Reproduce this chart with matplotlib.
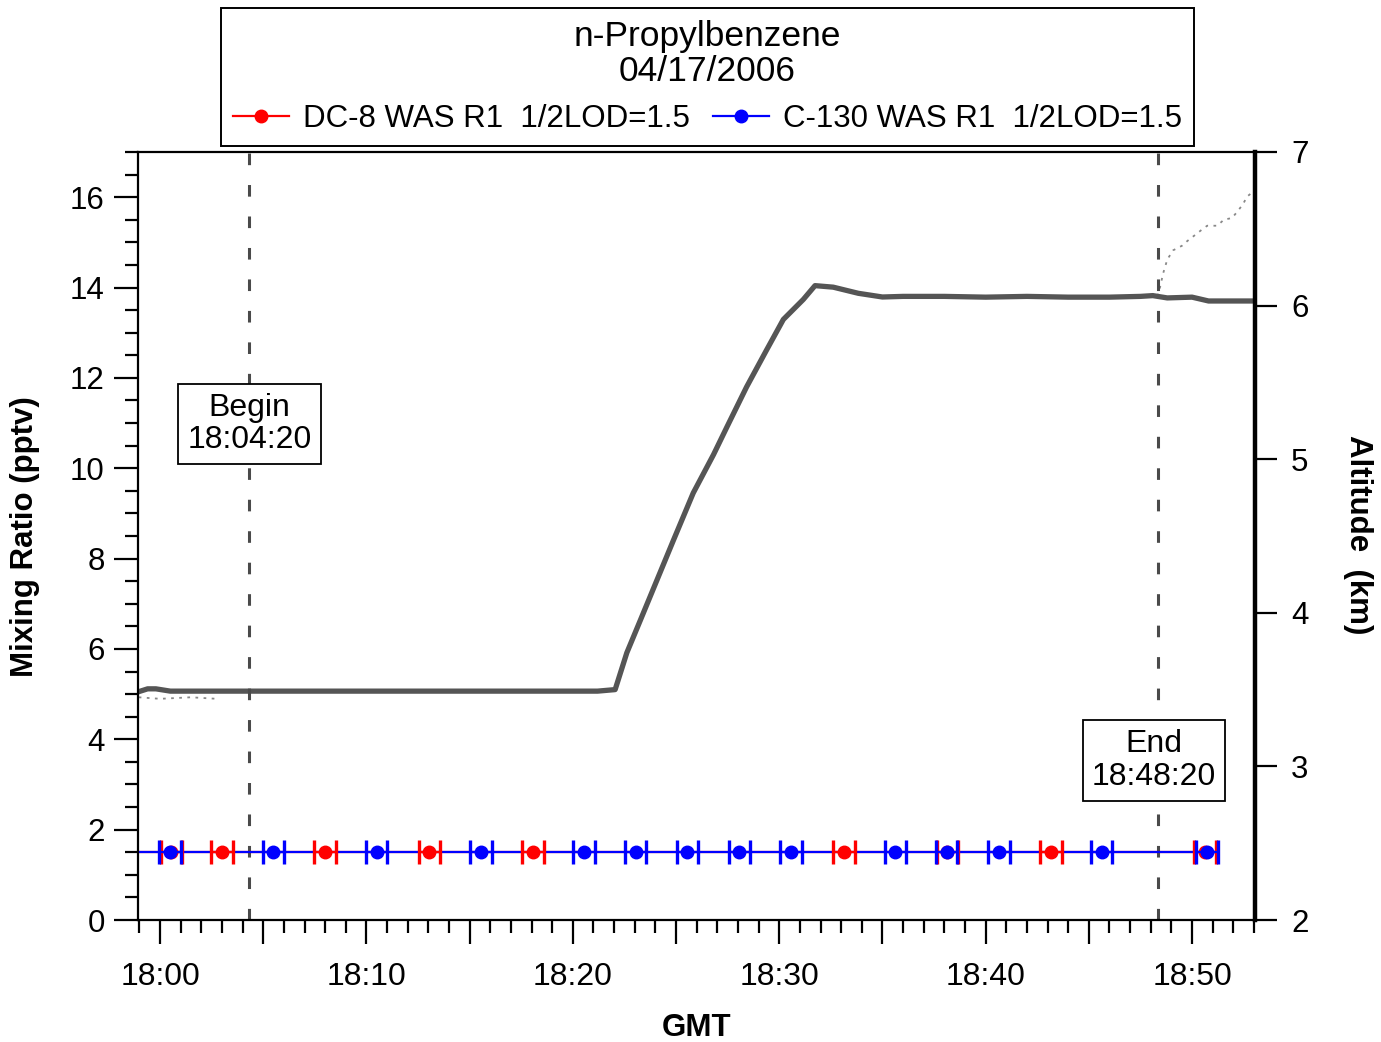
import matplotlib
matplotlib.use("Agg")
import numpy as np
import matplotlib.pyplot as plt
from matplotlib.lines import Line2D
from matplotlib.ticker import FixedLocator, MultipleLocator, FuncFormatter

plt.rcParams['font.family'] = ['Liberation Sans', 'DejaVu Sans']

# ---------------- data ----------------
species = "n-Propylbenzene"
flight_date = "04/17/2006"
dc8_label = "DC-8 WAS R1  1/2LOD=1.5"
c130_label = "C-130 WAS R1  1/2LOD=1.5"
begin_time = "18:04:20"
end_time = "18:48:20"
x_range = ["17:58:56", "18:53:03"]
mr_range = [0, 17]
alt_range = [2, 7]

# DC-8 WAS samples (all below LOD -> plotted at 1/2 LOD)
dc8_times = ["18:00:33", "18:03:00", "18:08:00", "18:13:03", "18:18:04",
             "18:33:08", "18:38:09", "18:43:10", "18:50:38"]
dc8_mr = [1.5, 1.5, 1.5, 1.5, 1.5, 1.5, 1.5, 1.5, 1.5]
dc8_halfwidth_s = [31, 31, 31, 31, 31, 31, 31, 31, 31]

# C-130 WAS samples (all below LOD -> plotted at 1/2 LOD)
c130_times = ["18:00:29", "18:05:29", "18:10:30", "18:15:33", "18:20:32",
              "18:23:03", "18:25:33", "18:28:04", "18:30:34", "18:35:37",
              "18:38:07", "18:40:39", "18:45:37", "18:50:43"]
c130_mr = [1.5, 1.5, 1.5, 1.5, 1.5, 1.5, 1.5, 1.5, 1.5, 1.5, 1.5, 1.5, 1.5, 1.5]
c130_halfwidth_s = [31, 31, 31, 31, 31, 31, 31, 31, 31, 31, 31, 31, 31, 31]

# Altitude (km)
alt_times = ["17:58:56", "17:59:24", "17:59:48", "18:00:30", "18:02:00",
             "18:05:00", "18:10:00", "18:15:00", "18:20:00", "18:21:12",
             "18:22:03", "18:22:37", "18:23:16", "18:24:04", "18:24:52",
             "18:25:50", "18:26:49", "18:27:28", "18:28:25", "18:29:23",
             "18:30:12", "18:31:10", "18:31:44", "18:32:37", "18:33:50",
             "18:35:00", "18:36:00", "18:38:00", "18:40:00", "18:42:00",
             "18:44:00", "18:46:00", "18:47:30", "18:48:06", "18:48:48",
             "18:50:00", "18:50:48", "18:52:00", "18:53:03"]
alt_km = [3.485, 3.505, 3.505, 3.49, 3.49,
          3.49, 3.49, 3.49, 3.49, 3.49,
          3.50, 3.74, 3.95, 4.21, 4.47,
          4.78, 5.03, 5.21, 5.47, 5.71,
          5.91, 6.04, 6.13, 6.12, 6.08,
          6.056, 6.06, 6.06, 6.055, 6.06,
          6.055, 6.055, 6.06, 6.065, 6.05,
          6.055, 6.03, 6.03, 6.03]

# Second (thin, dotted) altitude trace
alt2_times = ["17:58:58", "18:00:00", "18:01:30", "18:02:45", None,
              "18:48:20", "18:48:27", "18:48:36", "18:48:48", "18:49:05",
              "18:49:31", "18:49:46", "18:50:09", "18:50:26", "18:50:44",
              "18:51:13", "18:51:33", "18:51:56", "18:52:11", "18:52:28",
              "18:52:40", "18:52:57"]
alt2_km = [3.45, 3.44, 3.45, 3.44, None,
           6.06, 6.12, 6.21, 6.30, 6.36,
           6.39, 6.42, 6.46, 6.49, 6.52,
           6.52, 6.56, 6.57, 6.61, 6.66,
           6.71, 6.74]


def tmin(s):
    """HH:MM:SS -> minutes after 18:00"""
    if s is None:
        return np.nan
    h, m, sec = (int(v) for v in s.split(":"))
    return (h - 18) * 60 + m + sec / 60.0


# ---------------- figure ----------------
fig = plt.figure(figsize=(13.81, 10.42), dpi=100)
ax = fig.add_axes([138 / 1381, 122 / 1042, 1117 / 1381, 768 / 1042])
ax2 = ax.twinx()
ax.set_zorder(ax2.get_zorder() + 1)
ax.patch.set_visible(False)

xl = [tmin(v) for v in x_range]
ax.set_xlim(xl)
ax.set_ylim(mr_range)
ax2.set_ylim(alt_range)

# altitude traces
ax2.plot([tmin(t) for t in alt_times], alt_km, color='#555555', lw=3.8,
         solid_capstyle='butt', solid_joinstyle='round', zorder=2)
ax2.plot([tmin(t) for t in alt2_times],
         [np.nan if v is None else v for v in alt2_km],
         color='#888888', lw=1.3, ls=(0, (1.5, 3)), zorder=1)

# begin / end markers
dash_style = (0, (3.8, 6.5))
for tt in (begin_time, end_time):
    ax.axvline(tmin(tt), color='#4a4a4a', lw=2.2, ls=dash_style, zorder=1.5)

# 1/2 LOD sample series
red = '#ff0000'
blue = '#0000ff'
for times, vals, hw, col, z in ((dc8_times, dc8_mr, dc8_halfwidth_s, red, 2),
                                (c130_times, c130_mr, c130_halfwidth_s, blue, 2.1)):
    x = np.array([tmin(t) for t in times])
    e = np.array(hw) / 60.0
    ax.plot([xl[0], (x + e).max()], [vals[0], vals[-1]], color=col, lw=1.6, zorder=z)

for times, vals, hw, col, z in ((dc8_times, dc8_mr, dc8_halfwidth_s, red, 3),
                                (c130_times, c130_mr, c130_halfwidth_s, blue, 4)):
    x = np.array([tmin(t) for t in times])
    e = np.array(hw) / 60.0
    ax.errorbar(x, vals, xerr=e, fmt='o', color=col, ms=9, ecolor=col,
                elinewidth=1.6, capsize=8.5, capthick=2.4, zorder=z)

# annotation boxes
box = dict(boxstyle='square,pad=0.28', fc='white', ec='black', lw=1.3)
ax.text(tmin(begin_time), 10.98, "Begin\n" + begin_time, ha='center', va='center',
        fontsize=23, linespacing=1.12, bbox=box, zorder=6)
ax.text(tmin(end_time) - 0.17, 3.53, "End\n" + end_time, ha='center', va='center',
        fontsize=23, linespacing=1.12, bbox=box, zorder=6)

# ---------------- axes styling ----------------
for side in ('left', 'bottom', 'top'):
    ax.spines[side].set_linewidth(1.6)
ax2.spines['right'].set_linewidth(3.2)
for side in ('left', 'bottom', 'top'):
    ax2.spines[side].set_visible(False)
ax.spines['right'].set_visible(False)

ax.xaxis.set_major_locator(FixedLocator(list(range(0, 55, 5))))
ax.xaxis.set_minor_locator(MultipleLocator(1))
ax.xaxis.set_major_formatter(FuncFormatter(
    lambda v, p: "18:%02d" % int(round(v)) if int(round(v)) % 10 == 0 else ""))
ax.yaxis.set_major_locator(MultipleLocator(2))
ax.yaxis.set_minor_locator(MultipleLocator(0.5))
ax2.yaxis.set_major_locator(MultipleLocator(1))

ax.tick_params(axis='x', which='major', direction='out', length=17, width=1.6,
               labelsize=23, pad=13, top=False)
ax.tick_params(axis='x', which='minor', direction='out', length=9, width=1.6, top=False)
ax.tick_params(axis='y', which='major', direction='out', length=17, width=1.6,
               labelsize=22.5, pad=7, right=False)
ax.tick_params(axis='y', which='minor', direction='out', length=9.5, width=1.6, right=False)
ax2.tick_params(axis='y', which='major', direction='out', length=16, width=1.6,
                labelsize=22.5, pad=10)
ax2.tick_params(axis='y', which='minor', right=False)

ax.set_xlabel("GMT", fontsize=22.5, fontweight='bold')
ax.xaxis.set_label_coords(0.5004, -0.121)
ax.set_ylabel("Mixing Ratio (pptv)", fontsize=22.5, fontweight='bold', va='center')
ax.yaxis.set_label_coords(-0.1012, 0.499)
ax2.set_ylabel("Altitude  (km)", fontsize=22.5, fontweight='bold', rotation=270,
               va='center', ha='center')
ax2.yaxis.set_label_coords(1.0922, 0.502)

# ---------------- legend ----------------
handles = [Line2D([], [], color=red, lw=1.6, marker='o', ms=9),
           Line2D([], [], color=blue, lw=1.6, marker='o', ms=9)]
leg = fig.legend(handles, [dc8_label, c130_label], ncol=2,
                 title=species + "\n" + flight_date,
                 loc='upper center', bbox_to_anchor=(707.5 / 1381, 1 - 8 / 1042),
                 fontsize=22.5, title_fontsize=25.5, frameon=True, fancybox=False,
                 edgecolor='black', framealpha=1, handlelength=1.8,
                 handletextpad=0.45, columnspacing=0.75, borderpad=0.38,
                 borderaxespad=0, numpoints=1)
leg.get_frame().set_linewidth(1.4)
leg.get_title().set_multialignment('center')
leg.get_title().set_linespacing(1.1)

fig.savefig("out.png", dpi=100)
